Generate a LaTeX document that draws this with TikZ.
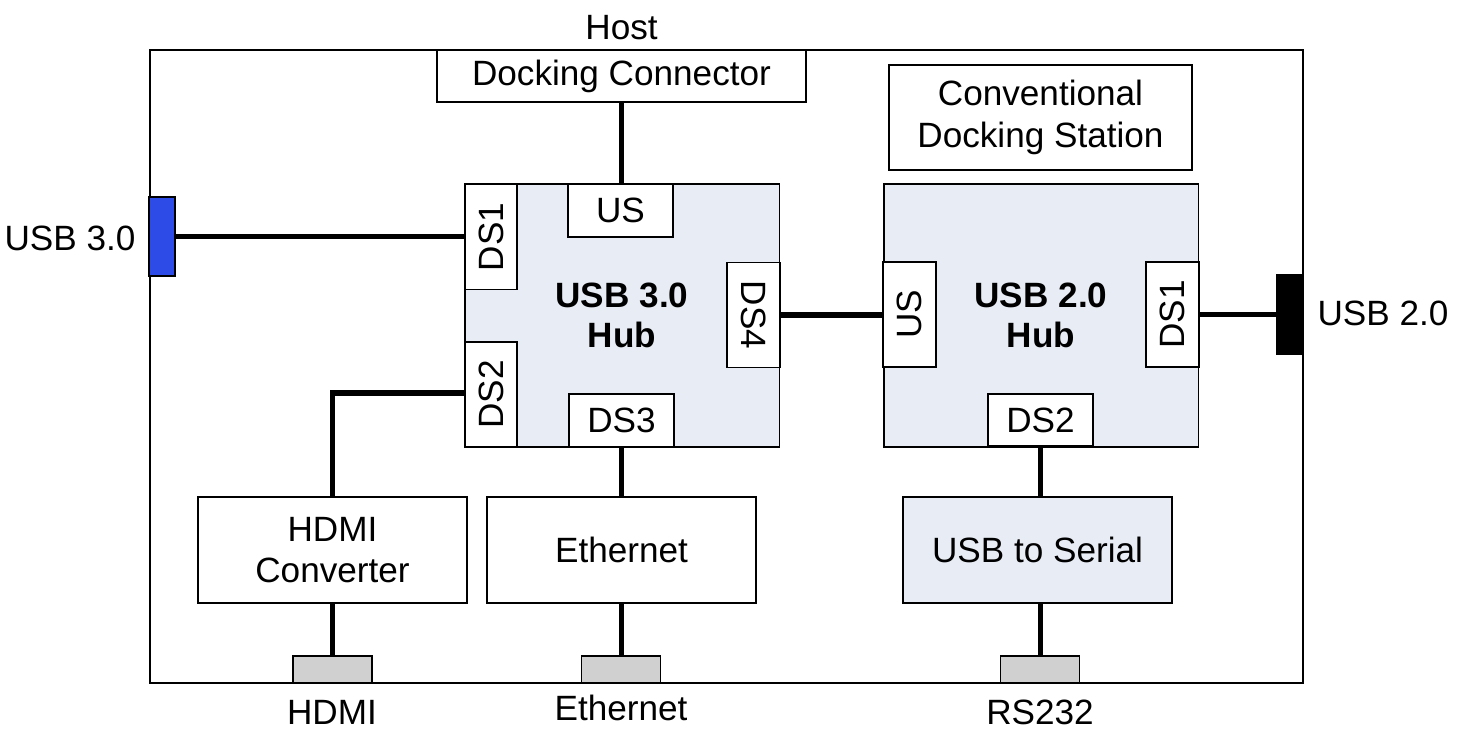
\documentclass[tikz,border=0pt]{standalone}
\usepackage{fontspec}
\setmainfont{Liberation Sans}
\usetikzlibrary{positioning}
\definecolor{hubfill}{RGB}{232,236,245}
\definecolor{usbblue}{RGB}{45,75,230}
\definecolor{jackgray}{RGB}{208,208,208}

\begin{document}
\begin{tikzpicture}[
  x=0.02cm, y=-0.02cm,
  font=\fontsize{20}{23.5}\selectfont,
  box/.style={rectangle, draw, line width=1.1pt, align=center, fill=white, inner sep=0pt},
  hub/.style={box, fill=hubfill, minimum width=6.3cm, minimum height=5.26cm,
    font=\fontsize{20}{22.5}\selectfont\bfseries},
  port/.style={box, minimum width=2.1cm, minimum height=1.05cm},
  func/.style={box, minimum width=5.38cm, minimum height=2.12cm},
  jack/.style={rectangle, draw, line width=1.1pt, fill=jackgray, minimum width=1.58cm, minimum height=0.54cm, inner sep=0pt},
  wire/.style={line width=3pt}
]
  \useasboundingbox (0,0) rectangle (1458,732);
  % enclosure
  \node[box, fill=none, line width=1.3pt, minimum width=23.06cm, minimum height=12.66cm] (dock) at (726.5,366.5) {};
  \node[box, minimum width=7.38cm, minimum height=1.04cm] (host) at (621.5,76) {Docking Connector};
  \node at (621.5,28) {Host};
  \node[box, minimum width=6.06cm, minimum height=2.1cm] (conv) at (1040.5,117.5) {Conventional\\Docking Station};

  % hubs and their ports
  \node[hub] (hubA) at (622,315.5) {USB 3.0\\Hub};
  \node[port] (a-us) at (620.5,210.5) {US};
  \node[port, rotate=90] (a-ds1) at (491,237) {DS1};
  \node[port, rotate=90] (a-ds2) at (491,394.5) {DS2};
  \node[port, rotate=-90] (a-ds4) at (753.5,315) {DS4};
  \node[port] (a-ds3) at (621.5,420.5) {DS3};

  \node[hub] (hubB) at (1041,315.5) {USB 2.0\\Hub};
  \node[port, rotate=90] (b-us) at (909.5,314.5) {US};
  \node[port, rotate=90] (b-ds1) at (1172.5,314.5) {DS1};
  \node[port] (b-ds2) at (1040.5,420) {DS2};

  % functions
  \node[func] (hdmi) at (332.5,550) {HDMI\\Converter};
  \node[func] (eth) at (621.5,550) {Ethernet};
  \node[func, fill=hubfill] (serial) at (1037.5,550) {USB to Serial};

  % jacks on the enclosure
  \node[jack, fill=usbblue, minimum width=0.52cm, minimum height=1.58cm] (usb3jack) at (162,236.5) {};
  \node[jack, fill=black, minimum width=0.52cm, minimum height=1.6cm] (usb2jack) at (1290,314.5) {};
  \node[jack] (hdmijack) at (332.5,669.5) {};
  \node[jack] (ethjack) at (621,669.5) {};
  \node[jack] (rsjack) at (1040,669.5) {};

  \node at (70,238) {USB 3.0};
  \node at (1383,313) {USB 2.0};
  \node at (332,712) {HDMI};
  \node at (621,708) {Ethernet};
  \node at (1040,712) {RS232};

  % links
  \draw[wire] (host.south) -- (host.south |- hubA.north);
  \draw[wire] (usb3jack.east) -- (usb3jack.east -| hubA.west);
  \draw[wire] (hubA.west |- 0,393) -| (hdmi.north);
  \draw[wire] (hubA.east |- a-ds4.center) -- (hubB.west |- a-ds4.center);
  \draw[wire] (hubB.east |- b-ds1.center) -- (usb2jack.west |- b-ds1.center);
  \draw[wire] (a-ds3.center |- hubA.south) -- (a-ds3.center |- eth.north);
  \draw[wire] (b-ds2.center |- hubB.south) -- (b-ds2.center |- serial.north);
  \draw[wire] (hdmi.south) -- (hdmijack.north);
  \draw[wire] (eth.south) -- (eth.south |- ethjack.north);
  \draw[wire] (b-ds2.center |- serial.south) -- (b-ds2.center |- rsjack.north);
\end{tikzpicture}
\end{document}
